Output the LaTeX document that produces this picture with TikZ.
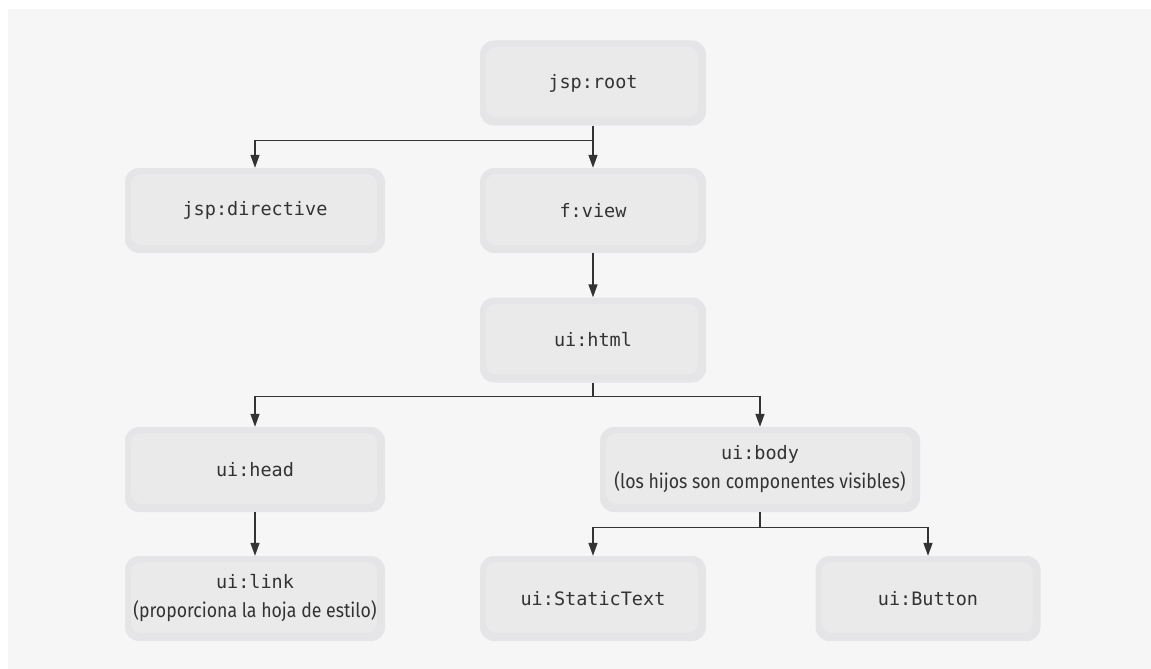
\documentclass[tikz,border=0pt]{standalone}
\usepackage{fontspec}
\usepackage{graphicx}
\setmonofont{DejaVu Sans Mono}
\setsansfont{Fira Sans}
\usetikzlibrary{arrows.meta}
\definecolor{bgcol}{HTML}{F6F6F6}
\definecolor{outercol}{HTML}{E5E5E7}
\definecolor{innercol}{HTML}{EAEAEB}
\definecolor{txtcol}{HTML}{333333}
\definecolor{linecol}{HTML}{333333}
\newcommand{\capt}[1]{\scalebox{0.885}[1]{\sffamily\fontsize{20}{23}\selectfont #1}}
\begin{document}
\begin{tikzpicture}[x=1pt,y=-1pt,
  boxnode/.style={rounded corners=14pt, fill=outercol, minimum height=85pt,
    inner sep=0pt, align=center, text=txtcol,
    font=\ttfamily\fontsize{18.5}{30}\selectfont,
    path picture={\fill[innercol, rounded corners=10pt]
      ([shift={(6pt,-6pt)}]path picture bounding box.north west) rectangle
      ([shift={(-8pt,8pt)}]path picture bounding box.south east);}},
  conn/.style={draw=linecol, line width=1.4pt, -{Triangle[length=13pt,width=9pt]}},
  plain/.style={draw=linecol, line width=1.4pt}
]
\useasboundingbox (0,0) rectangle (1151,669);
\fill[white] (0,0) rectangle (1151,669);
\fill[bgcol] (8,9) rectangle (1151,669);

\node[boxnode, minimum width=226pt] (root) at (593,83) {jsp:root};
\node[boxnode, minimum width=260pt] (directive) at (255,210.5) {jsp:directive};
\node[boxnode, minimum width=226pt] (view) at (593,210.5) {f:view};
\node[boxnode, minimum width=226pt] (html) at (593,340) {ui:html};
\node[boxnode, minimum width=260pt] (head) at (255,469.5) {ui:head};
\node[boxnode, minimum width=320pt] (body) at (760,469.5) {ui:body\\[-1pt]\capt{(los hijos son componentes visibles)}};
\node[boxnode, minimum width=260pt] (link) at (255,598.5) {ui:link\\[-1pt]\capt{(proporciona la hoja de estilo)}};
\node[boxnode, minimum width=226pt] (static) at (593,598.5) {ui:StaticText};
\node[boxnode, minimum width=225pt] (button) at (928,598.5) {ui:Button};

\coordinate (rootj) at ([yshift=-15pt]root.south);
\coordinate (htmlj) at ([yshift=-14pt]html.south);
\coordinate (bodyj) at ([yshift=-15pt]body.south);

\draw[plain] (root.south) -- (rootj);
\draw[conn] (rootj) -| (directive.north);
\draw[conn] (rootj) -- (view.north);
\draw[conn] (view.south) -- (html.north);
\draw[plain] (html.south) -- (htmlj);
\draw[conn] (htmlj) -| (head.north);
\draw[conn] (htmlj) -| (body.north);
\draw[conn] (head.south) -- (link.north);
\draw[plain] (body.south) -- (bodyj);
\draw[conn] (bodyj) -| (static.north);
\draw[conn] (bodyj) -| (button.north);
\end{tikzpicture}
\end{document}
